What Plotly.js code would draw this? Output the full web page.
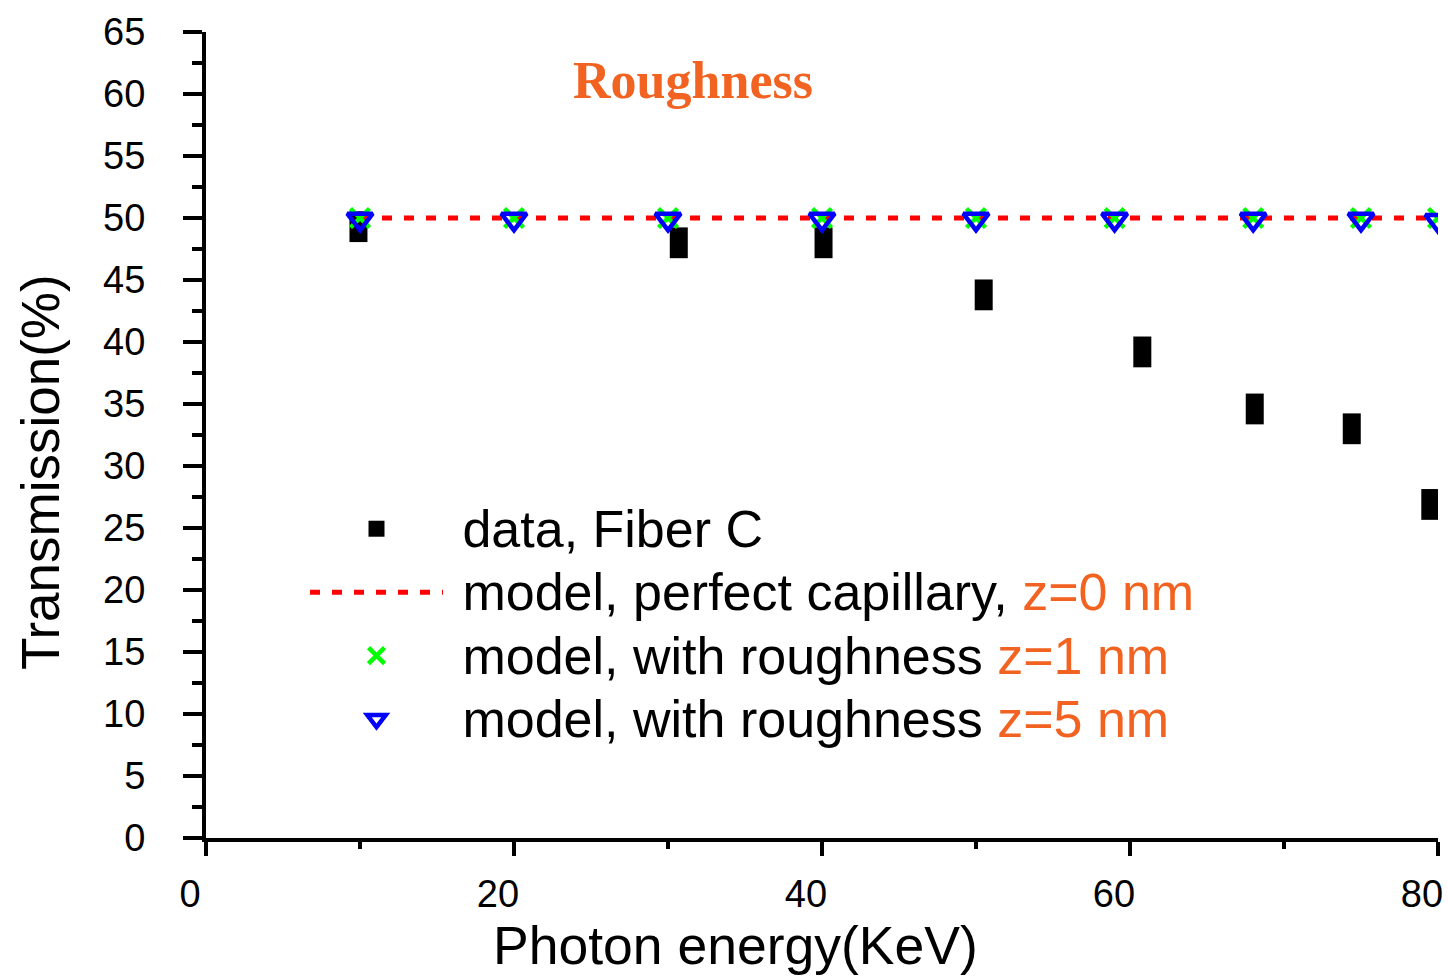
<!DOCTYPE html>
<html>
<head>
<meta charset="utf-8">
<script src="https://cdn.plot.ly/plotly-3.0.1.min.js"></script>
<style>html,body{margin:0;padding:0;background:#fff;}#chart{width:1448px;height:976px;}</style>
</head>
<body>
<div id="chart"></div>
<script>
// Measured data, Fiber C
const dataX = [9.9, 30.7, 40.1, 50.5, 60.8, 68.1, 74.4, 79.5];
const dataY = [49.3, 48.0, 48.0, 43.8, 39.2, 34.6, 33.0, 26.9];
// Model energies
const modelX = [10, 20, 30, 40, 50, 59, 68, 75, 80];
const perfectY = [50, 50, 50, 50, 50, 50, 50, 50, 50];
const rough1Y = [50, 50, 50, 50, 50, 50, 50, 50, 50];
const rough5Y = [49.9, 49.9, 49.9, 49.9, 49.9, 49.9, 49.9, 49.9, 49.8];
const xTicks = [0, 20, 40, 60, 80];
const yTicks = [0, 5, 10, 15, 20, 25, 30, 35, 40, 45, 50, 55, 60, 65];

const ORANGE = '#f26322';
const FONT = 'Liberation Sans, Arial, sans-serif';
const big = s => '<span style="font-size:52px">\u00A0' + s + '</span>';

const traces = [
  { x: dataX, y: dataY, type: 'scatter', mode: 'markers', showlegend: false,
    marker: { symbol: 'line-ns', size: 22, color: '#000', line: { width: 18, color: '#000' } } },
  { x: [null], y: [null], type: 'scatter', mode: 'markers', name: big('data, Fiber C'),
    marker: { symbol: 'square', size: 16, color: '#000' } },
  { x: modelX, y: perfectY, type: 'scatter', mode: 'lines',
    name: big('model, perfect capillary, <span style="color:' + ORANGE + '">z=0 nm</span>'),
    line: { color: '#ff0000', width: 5, dash: '10px,12px' } },
  { x: modelX, y: rough1Y, type: 'scatter', mode: 'markers',
    name: big('model, with roughness <span style="color:' + ORANGE + '">z=1 nm</span>'),
    marker: { symbol: 'x-thin', size: 19, color: '#00ff00', line: { width: 4.5, color: '#00ff00' } } },
  { x: modelX, y: rough5Y, type: 'scatter', mode: 'markers',
    name: big('model, with roughness <span style="color:' + ORANGE + '">z=5 nm</span>'),
    marker: { symbol: 'triangle-down-open', size: 22, color: '#0000ff', line: { width: 4.5, color: '#0000ff' } } }
];

const layout = {
  width: 1448, height: 976,
  margin: { l: 206, r: 10, t: 32, b: 138 },
  paper_bgcolor: '#fff', plot_bgcolor: '#fff',
  font: { family: FONT, color: '#000' },
  title: { text: '<b>Roughness</b>', font: { family: 'Liberation Serif, Times New Roman, serif', size: 52, color: ORANGE },
           x: 693 / 1448, xref: 'container', xanchor: 'center', y: 1 - 80 / 976, yref: 'container', yanchor: 'middle' },
  xaxis: {
    range: [0, 80], tickvals: xTicks, ticktext: xTicks.map(String),
    showgrid: false, zeroline: false, showline: true, linewidth: 4, linecolor: '#000',
    ticks: 'outside', ticklen: 14, tickwidth: 4, tickcolor: '#000',
    minor: { dtick: 10, ticks: 'outside', ticklen: 7, tickwidth: 4, tickcolor: '#000' },
    tickfont: { size: 38, family: FONT }, ticklabelstandoff: 5, ticklabelshift: -16,
    automargin: false
  },
  yaxis: {
    range: [0, 65], tickvals: yTicks, ticktext: yTicks.map(String),
    showgrid: false, zeroline: false, showline: true, linewidth: 4, linecolor: '#000',
    ticks: 'outside', ticklen: 19, tickwidth: 4, tickcolor: '#000',
    minor: { dtick: 2.5, ticks: 'outside', ticklen: 10, tickwidth: 4, tickcolor: '#000' },
    tickfont: { size: 38, family: FONT }, ticklabelstandoff: 30,
    automargin: false
  },
  annotations: [
    { text: 'Photon energy(KeV)', xref: 'paper', yref: 'paper', x: (735 - 206) / 1232, y: (838 - 945) / 806,
      xanchor: 'center', yanchor: 'middle', showarrow: false, font: { size: 53.5, family: FONT, color: '#000' } },
    { text: 'Transmission(%)', xref: 'paper', yref: 'paper', x: (40 - 206) / 1232, y: (838 - 472) / 806,
      xanchor: 'center', yanchor: 'middle', textangle: -90, showarrow: false, font: { size: 53, family: FONT, color: '#000' } }
  ],
  legend: {
    x: (305 - 206) / 1232, xanchor: 'left', y: (838 - 492) / 806, yanchor: 'top',
    bgcolor: 'rgba(0,0,0,0)', borderwidth: 0, itemwidth: 133,
    font: { size: 46.5, family: FONT, color: '#000' }, traceorder: 'normal'
  },
  showlegend: true
};

Plotly.newPlot('chart', traces, layout, { displayModeBar: false, staticPlot: true });
</script>
</body>
</html>
